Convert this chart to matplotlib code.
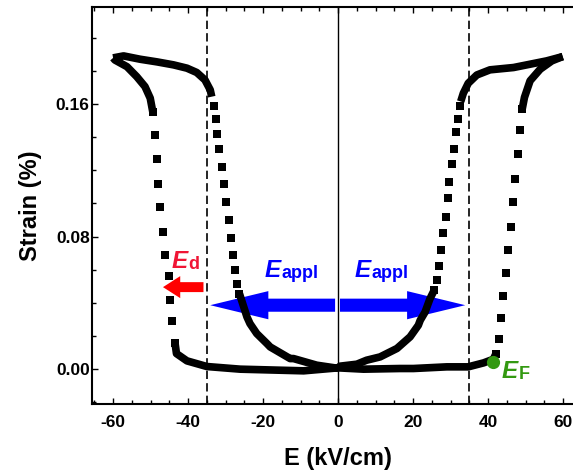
import matplotlib
matplotlib.use("Agg")
import matplotlib.pyplot as plt

plt.rcParams['font.family'] = ['Liberation Sans', 'DejaVu Sans']
plt.rcParams['font.weight'] = 'bold'
plt.rcParams['axes.unicode_minus'] = False

# strain loop, E in kV/cm, strain in %
# thick (densely sampled) parts of the loop
neg_top_E = [-60.0, -57.2, -52.8, -48.3, -43.9, -40.3, -37.7, -35.5, -34.1, -33.7]
neg_top_S = [0.1878, 0.1890, 0.1870, 0.1854, 0.1836, 0.1816, 0.1790, 0.1745, 0.1685, 0.1644]
neg_in_E = [-26.3, -24.3, -23.5, -21.7, -19.0, -18.1, -12.8, -11.9, -5.7, -0.3, 0.0]
neg_in_S = [0.0455, 0.0315, 0.0275, 0.0215, 0.0155, 0.0134, 0.0064, 0.0064, 0.0024, 0.0006, 0.0008]
pos_flat_E = [0.0, 6.8, 16.5, 20.1, 29.0, 34.7, 38.8, 41.4, 42.1]
pos_flat_S = [0.0008, 0.0, 0.0004, 0.0004, 0.0014, 0.0014, 0.0038, 0.0060, 0.0094]
pos_horn_E = [49.1, 49.7, 51.2, 53.9, 57.0, 59.2, 59.9]
pos_horn_S = [0.157, 0.164, 0.174, 0.181, 0.186, 0.188, 0.1886]
pos_top_E = [59.9, 55.6, 51.2, 46.8, 40.5, 37.0, 34.7, 33.4, 32.7]
pos_top_S = [0.1886, 0.1860, 0.1840, 0.1820, 0.1806, 0.1775, 0.1725, 0.1665, 0.1615]
pos_in_E = [25.6, 24.5, 23.2, 21.9, 21.4, 19.2, 15.7, 11.2, 7.6, 5.0, 0.5, 0.0]
pos_in_S = [0.0475, 0.0425, 0.0345, 0.0295, 0.0265, 0.0195, 0.0125, 0.0074, 0.0054, 0.0030, 0.0018, 0.0008]
neg_flat_E = [0.0, -9.2, -26.1, -35.0, -40.3, -43.1, -43.5]
neg_flat_S = [0.0008, -0.0010, 0.0, 0.0016, 0.0050, 0.0094, 0.0160]
neg_horn_E = [-49.4, -50.1, -51.5, -53.7, -56.3, -59.5, -60.0]
neg_horn_S = [0.155, 0.1635, 0.1705, 0.1765, 0.1825, 0.1865, 0.1878]

# sparse parts of the loop (separate square markers)
neg_drop_E = [-33.2, -32.6, -32.2, -31.7, -30.9, -30.3, -29.9, -29.1, -28.6, -28.1, -27.5, -27.0, -26.3]
neg_drop_S = [0.159, 0.151, 0.142, 0.133, 0.122, 0.112, 0.101, 0.090, 0.079, 0.069, 0.060, 0.0516, 0.0455]
pos_rise_E = [42.1, 42.8, 43.4, 43.9, 44.7, 45.3, 46.0, 46.6, 47.3, 47.9, 48.5, 49.1]
pos_rise_S = [0.0094, 0.018, 0.031, 0.044, 0.058, 0.072, 0.086, 0.101, 0.115, 0.130, 0.144, 0.157]
pos_drop_E = [32.5, 32.1, 31.5, 30.9, 30.3, 29.7, 29.2, 28.7, 28.1, 27.5, 26.9, 26.3, 25.6]
pos_drop_S = [0.159, 0.151, 0.143, 0.133, 0.1235, 0.113, 0.103, 0.092, 0.082, 0.0716, 0.062, 0.054, 0.0475]
neg_rise_E = [-43.5, -44.3, -44.8, -45.2, -46.1, -46.8, -47.5, -47.9, -48.3, -48.8, -49.4]
neg_rise_S = [0.016, 0.029, 0.042, 0.056, 0.069, 0.083, 0.098, 0.112, 0.127, 0.141, 0.155]

E_F = (41.4, 0.0044)
E_dash = 35

fig = plt.figure(figsize=(5.73, 4.71), dpi=100)
ax = fig.add_axes([0.1614, 0.1423, 0.8573, 0.8428])

# guide lines
ax.axvline(0, color='black', lw=1.0, zorder=1)
for xv in (-E_dash, E_dash):
    ax.axvline(xv, color='black', lw=1.2, dashes=(5, 2.5), zorder=1)

# arrows
ax.arrow(-0.8, 0.0386, -33.3, 0, width=0.0079, head_width=0.0170, head_length=15.5,
         length_includes_head=True, color='#0000ff', lw=0, zorder=2)
ax.arrow(0.5, 0.0386, 33.4, 0, width=0.0079, head_width=0.0170, head_length=15.5,
         length_includes_head=True, color='#0000ff', lw=0, zorder=2)
ax.arrow(-35.9, 0.0495, -10.8, 0, width=0.0060, head_width=0.0133, head_length=4.6,
         length_includes_head=True, color='#ff0000', lw=0, zorder=2)

# loop
thick = [(neg_top_E, neg_top_S), (neg_in_E, neg_in_S), (pos_flat_E, pos_flat_S),
         (pos_horn_E, pos_horn_S), (pos_top_E, pos_top_S), (pos_in_E, pos_in_S),
         (neg_flat_E, neg_flat_S), (neg_horn_E, neg_horn_S)]
for xs, ys in thick:
    ax.plot(xs, ys, color='black', lw=5.5, solid_joinstyle='round',
            solid_capstyle='butt', zorder=3)
for xs, ys in [(neg_drop_E, neg_drop_S), (pos_rise_E, pos_rise_S),
               (pos_drop_E, pos_drop_S), (neg_rise_E, neg_rise_S)]:
    ax.plot(xs, ys, ls='none', marker='s', ms=5.6, color='black', mew=0, zorder=3)

ax.plot([E_F[0]], [E_F[1]], 'o', ms=9.5, color='#339911', mew=0, zorder=4)


def label(x, y, sub, color):
    t = ax.text(x, y, 'E', fontsize=17.5, fontweight='bold', fontstyle='italic',
                color=color, ha='left', va='baseline', zorder=5)
    ax.annotate(sub, xy=(1, 0), xycoords=t, xytext=(0.3, 0), textcoords='offset points',
                fontsize=13, fontweight='bold', color=color, ha='left', va='bottom', zorder=5)


label(-44.3, 0.061, 'd', '#f01535')
label(-19.5, 0.0556, 'appl', '#0000ff')
label(4.5, 0.0556, 'appl', '#0000ff')
label(43.7, -0.0054, 'F', '#339911')

ax.set_xlim(-65.5, 65.5)
ax.set_ylim(-0.021, 0.2185)
ax.set_xticks([-60, -40, -20, 0, 20, 40, 60])
ax.set_xticks(range(-65, 66, 5), minor=True)
ax.set_yticks([0.0, 0.08, 0.16])
ax.set_yticks([-0.02, 0.02, 0.04, 0.06, 0.10, 0.12, 0.14, 0.18, 0.20], minor=True)
ax.set_yticklabels(['0.00', '0.08', '0.16'])
ax.tick_params(which='both', direction='in', top=True, right=True, width=1.0)
ax.tick_params(which='major', length=4.5, labelsize=12.5)
ax.tick_params(axis='y', which='major', pad=2)
ax.tick_params(axis='x', which='major', pad=8)
ax.tick_params(which='minor', length=3)
for sp in ax.spines.values():
    sp.set_linewidth(1.5)

ax.set_xlabel('E (kV/cm)', fontsize=17, fontweight='bold')
ax.set_ylabel('Strain (%)', fontsize=17, fontweight='bold')
ax.xaxis.set_label_coords(0.5, -0.108)
ax.yaxis.set_label_coords(-0.103, 0.5)

fig.savefig('out.png', dpi=100)
